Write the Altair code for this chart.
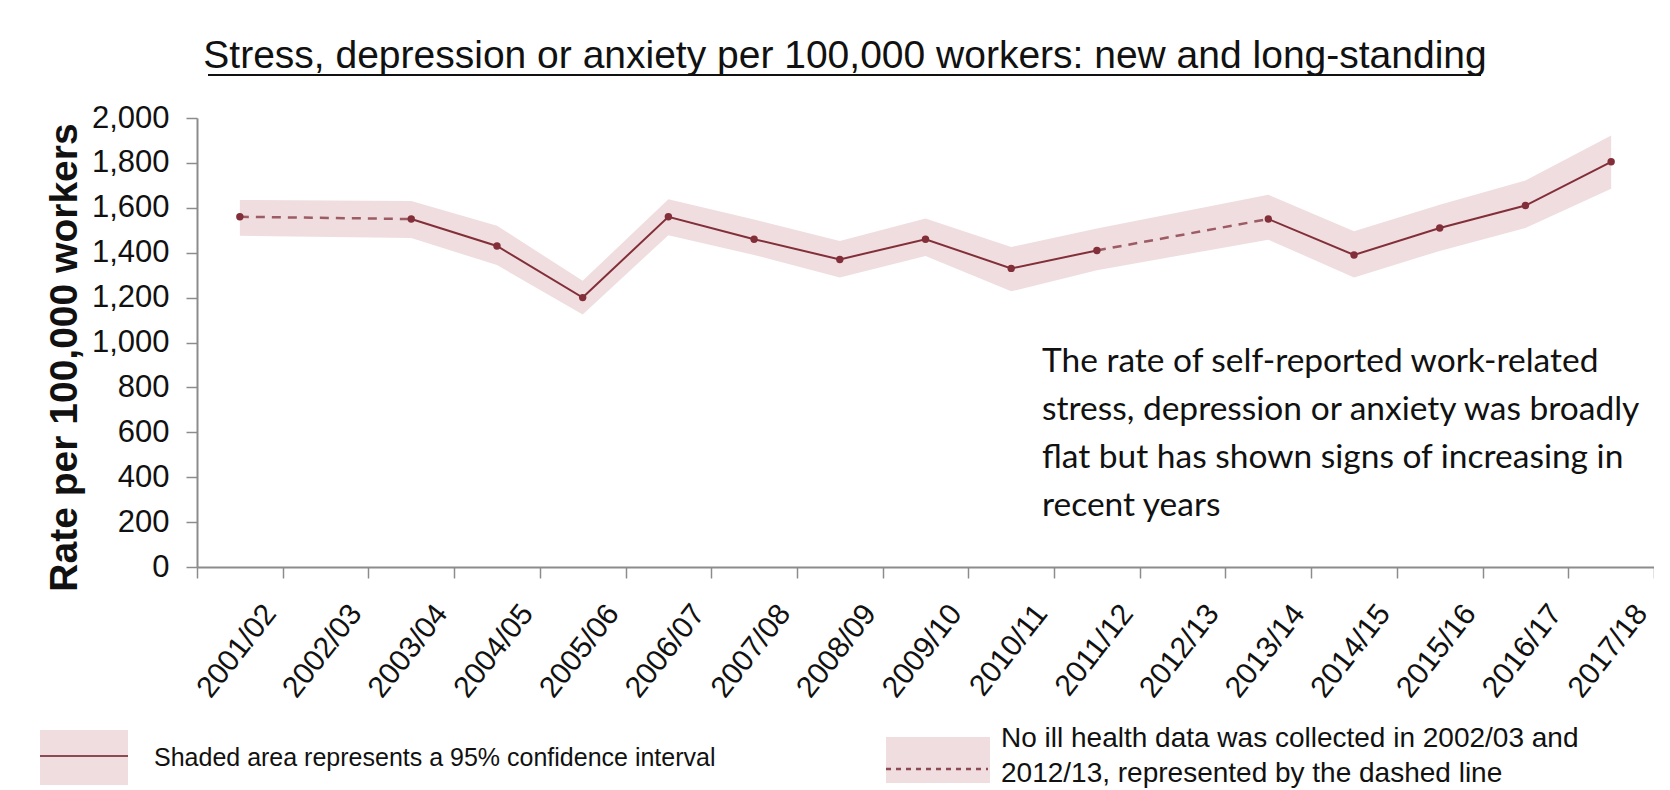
import altair as alt
import pandas as pd

years = ["2001/02", "2002/03", "2003/04", "2004/05", "2005/06", "2006/07", "2007/08",
         "2008/09", "2009/10", "2010/11", "2011/12", "2012/13", "2013/14", "2014/15",
         "2015/16", "2016/17", "2017/18"]
rate = [1560, None, 1550, 1430, 1200, 1560, 1460, 1370, 1460, 1330, 1410, None,
        1550, 1390, 1510, 1610, 1805]
lower = [1475, None, 1465, 1345, 1125, 1478, 1390, 1290, 1385, 1228, 1322, None,
         1458, 1290, 1408, 1510, 1685]
upper = [1635, None, 1630, 1520, 1275, 1638, 1548, 1452, 1552, 1425, 1508, None,
         1658, 1495, 1614, 1722, 1922]

title_text = "Stress, depression or anxiety per 100,000 workers: new and long-standing"
y_title = "Rate per 100,000 workers"
note_text = ("The rate of self-reported work-related\nstress, depression or anxiety was broadly\n"
             "flat but has shown signs of increasing in\nrecent years")
legend_ci = "Shaded area represents a 95% confidence interval"
legend_gap = "No ill health data was collected in 2002/03 and\n2012/13, represented by the dashed line"

# ---- derived tables ----
df = pd.DataFrame({"year": years, "rate": rate, "lower": lower, "upper": upper})
valid = df.dropna().reset_index(drop=True)

solid_rows, run, prev_ok = [], 0, False
for i, v in enumerate(rate):
    if v is None:
        prev_ok = False
        continue
    if not prev_ok:
        run += 1
    solid_rows.append({"year": years[i], "rate": v, "seg": f"s{run}"})
    prev_ok = True
solid = pd.DataFrame(solid_rows)

dashed_rows = []
for i, v in enumerate(rate):
    if v is None:
        a, b = i - 1, i + 1
        dashed_rows.append({"year": years[a], "rate": rate[a], "seg": f"d{i}"})
        dashed_rows.append({"year": years[b], "rate": rate[b], "seg": f"d{i}"})
dashed = pd.DataFrame(dashed_rows)

LINE = "#822F39"
BAND = "#F0DDDF"
AXIS = "#8C8C8C"
FONT = "Liberation Sans"

W, H = 1457, 449

x_enc = alt.X(
    "year:N", sort=years, bandPosition=0.5,
    scale=alt.Scale(type="band", domain=years, paddingInner=0, paddingOuter=0),
    axis=alt.Axis(title=None, tickBand="extent", labelAngle=-52, labelAlign="right",
                  labelBaseline="middle", labelFont=FONT, labelFontSize=30,
                  labelColor="#111111", labelPadding=30, labelOffset=30,
                  labelOverlap=False, labelBound=False,
                  tickSize=11, tickColor=AXIS, tickWidth=1.5, domainColor=AXIS,
                  domainWidth=2, grid=False),
)
y_scale = alt.Scale(domain=[0, 2000], nice=False)
y_axis = alt.Axis(values=list(range(0, 2001, 200)), format=",.0f", labelFont=FONT,
                  labelFontSize=31, labelColor="#111111", labelPadding=17, tickSize=11,
                  tickColor=AXIS, tickWidth=1.5, domainColor=AXIS, domainWidth=2, grid=False,
                  title=y_title, titleFont=FONT, titleFontWeight="bold",
                  titleFontSize=39, titleColor="#111111", titleX=-133, titleY=239,
                  titleAngle=-90, titleAlign="center", titleBaseline="middle")

band = alt.Chart(valid).mark_area(color=BAND, opacity=1).encode(
    x=x_enc, y=alt.Y("lower:Q", scale=y_scale, axis=y_axis), y2="upper:Q")

solid_line = alt.Chart(solid).mark_line(color=LINE, strokeWidth=2).encode(
    x=x_enc, y=alt.Y("rate:Q", scale=y_scale, axis=y_axis), detail="seg:N")

dashed_line = alt.Chart(dashed).mark_line(color=LINE, strokeWidth=2.5, strokeDash=[9, 7],
                                          opacity=0.75).encode(
    x=x_enc, y=alt.Y("rate:Q", scale=y_scale, axis=y_axis), detail="seg:N")

points = alt.Chart(valid).mark_point(filled=True, shape="circle", size=55, color=LINE,
                                     opacity=1).encode(
    x=x_enc, y=alt.Y("rate:Q", scale=y_scale, axis=y_axis))

one = pd.DataFrame({"title": [title_text], "note": [note_text],
                    "ci": [legend_ci], "gap": [legend_gap]})

title = alt.Chart(one).mark_text(font=FONT, fontSize=39, color="#111111",
                                 align="center", baseline="alphabetic").encode(
    text="title:N", x=alt.value(648), y=alt.value(-50))
underline = alt.Chart(one).mark_rule(color="#111111", strokeWidth=2).encode(
    x=alt.value(11), x2=alt.value(1284), y=alt.value(-43))

note = alt.Chart(one).mark_text(font="Lato", fontSize=33.5, color="#111111", align="left",
                                baseline="alphabetic", lineBreak="\n", lineHeight=48).encode(
    text="note:N", x=alt.value(845), y=alt.value(254))

leg_rect1 = alt.Chart(one).mark_rect(color=BAND).encode(
    x=alt.value(-157), x2=alt.value(-69), y=alt.value(612), y2=alt.value(667))
leg_line1 = alt.Chart(one).mark_rule(color="#8E4A52", strokeWidth=2).encode(
    x=alt.value(-157), x2=alt.value(-69), y=alt.value(638))
leg_text1 = alt.Chart(one).mark_text(font=FONT, fontSize=25, color="#111111",
                                     align="left", baseline="middle").encode(
    text="ci:N", x=alt.value(-43), y=alt.value(640))

leg_rect2 = alt.Chart(one).mark_rect(color=BAND).encode(
    x=alt.value(689), x2=alt.value(793), y=alt.value(619), y2=alt.value(665))
leg_line2 = alt.Chart(one).mark_rule(color="#8E4A52", strokeWidth=2.5, strokeDash=[5, 5]).encode(
    x=alt.value(689), x2=alt.value(791), y=alt.value(651))
leg_text2 = alt.Chart(one).mark_text(font=FONT, fontSize=28, color="#111111",
                                     align="left", baseline="middle", lineBreak="\n",
                                     lineHeight=35).encode(
    text="gap:N", x=alt.value(804), y=alt.value(621))

chart = alt.layer(
    band, solid_line, dashed_line, points, title, underline, note,
    leg_rect1, leg_line1, leg_text1, leg_rect2, leg_line2, leg_text2,
).properties(
    width=W, height=H,
    autosize=alt.AutoSizeParams(type="none"),
    padding={"left": 189, "top": 110, "right": 0, "bottom": 222},
    background="white",
).configure_view(stroke=None)

chart.save("out.html", embed_options={"renderer": "svg", "actions": False})
